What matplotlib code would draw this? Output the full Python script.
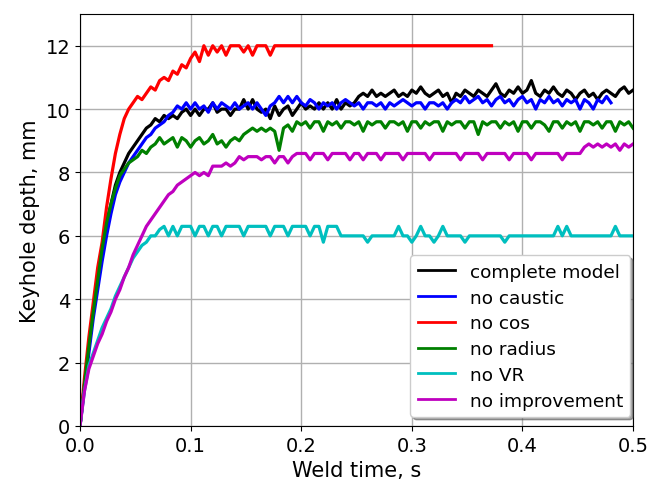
import numpy as np
import matplotlib
matplotlib.use("Agg")
import matplotlib.pyplot as plt

time_step = 0.004  # s between samples

labels = ["complete model", "no caustic", "no cos", "no radius", "no VR", "no improvement"]
colors = ["k", "b", "r", "g", "c", "m"]

complete_model = [
    0.0, 1.3, 2.5, 3.6, 4.6, 5.6, 6.4, 7.0, 7.6, 8.0, 8.3, 8.6, 8.8, 9.0, 9.2, 9.4, 9.5, 9.7, 9.6, 9.8,
    9.7, 9.8, 9.7, 9.9, 10.0, 9.8, 10.0, 9.8, 10.0, 10.0, 10.2, 9.9, 10.0, 10.0, 9.8, 10.0, 10.0, 10.3, 10.0, 10.3,
    10.0, 9.9, 10.0, 9.7, 10.1, 9.8, 10.0, 10.1, 9.8, 10.0, 10.2, 10.0, 10.1, 10.0, 10.2, 10.0, 10.2, 10.0, 10.3, 10.0,
    10.2, 10.1, 10.2, 10.4, 10.5, 10.4, 10.6, 10.4, 10.5, 10.4, 10.5, 10.6, 10.4, 10.5, 10.4, 10.6, 10.5, 10.7, 10.5, 10.4,
    10.5, 10.6, 10.4, 10.5, 10.2, 10.5, 10.4, 10.6, 10.5, 10.4, 10.6, 10.5, 10.4, 10.6, 10.8, 10.5, 10.4, 10.6, 10.5, 10.7,
    10.5, 10.6, 10.9, 10.5, 10.4, 10.6, 10.5, 10.7, 10.5, 10.4, 10.6, 10.5, 10.3, 10.5, 10.6, 10.4, 10.5, 10.3, 10.5, 10.6,
    10.5, 10.4, 10.6, 10.7, 10.5, 10.6,
]

no_caustic = [
    0.0, 1.2, 2.3, 3.4, 4.3, 5.2, 6.0, 6.7, 7.3, 7.7, 8.0, 8.3, 8.5, 8.7, 8.9, 9.1, 9.2, 9.4, 9.5, 9.6,
    9.8, 9.9, 10.1, 10.0, 10.2, 10.0, 10.2, 10.0, 10.1, 9.9, 10.2, 10.0, 10.2, 10.1, 10.0, 10.2, 10.0, 10.1, 10.2, 10.0,
    10.2, 10.0, 9.8, 10.1, 10.2, 10.4, 10.2, 10.4, 10.2, 10.4, 10.2, 10.1, 10.3, 10.2, 10.0, 10.2, 10.1, 10.2, 10.0, 10.2,
    10.3, 10.2, 10.1, 10.2, 10.0, 10.2, 10.2, 10.1, 10.2, 10.0, 10.2, 10.1, 10.2, 10.3, 10.2, 10.1, 10.2, 10.2, 10.0, 10.2,
    10.2, 10.1, 10.2, 10.0, 10.2, 10.3, 10.2, 10.4, 10.2, 10.3, 10.4, 10.2, 10.3, 10.1, 10.3, 10.4, 10.2, 10.3, 10.1, 10.3,
    10.4, 10.2, 10.3, 10.0, 10.3, 10.2, 10.4, 10.2, 10.3, 10.1, 10.3, 10.2, 10.3, 10.0, 10.3, 10.2, 10.0, 10.3, 10.2, 10.4,
    10.2,
]

no_cos = [
    0.0, 1.5, 2.8, 3.9, 5.0, 5.8, 6.9, 7.8, 8.6, 9.2, 9.7, 10.0, 10.2, 10.4, 10.3, 10.5, 10.7, 10.6, 10.9, 11.0,
    10.9, 11.2, 11.1, 11.4, 11.3, 11.6, 11.8, 11.5, 12.0, 11.7, 12.0, 11.8, 12.0, 11.7, 12.0, 12.0, 12.0, 11.8, 12.0, 11.7,
    12.0, 12.0, 12.0, 11.7, 12.0, 12.0, 12.0, 12.0, 12.0, 12.0, 12.0, 12.0, 12.0, 12.0, 12.0, 12.0, 12.0, 12.0, 12.0, 12.0,
    12.0, 12.0, 12.0, 12.0, 12.0, 12.0, 12.0, 12.0, 12.0, 12.0, 12.0, 12.0, 12.0, 12.0, 12.0, 12.0, 12.0, 12.0, 12.0, 12.0,
    12.0, 12.0, 12.0, 12.0, 12.0, 12.0, 12.0, 12.0, 12.0, 12.0, 12.0, 12.0, 12.0, 12.0,
]

no_radius = [
    0.0, 1.3, 2.5, 3.6, 4.6, 5.6, 6.4, 7.0, 7.5, 7.9, 8.1, 8.3, 8.4, 8.5, 8.7, 8.6, 8.8, 8.9, 9.1, 8.9,
    9.0, 9.1, 8.8, 9.1, 9.0, 8.8, 9.0, 9.1, 8.9, 9.0, 9.2, 8.9, 9.0, 8.8, 9.0, 9.1, 9.0, 9.2, 9.3, 9.4,
    9.3, 9.4, 9.3, 9.4, 9.3, 8.7, 9.4, 9.5, 9.3, 9.6, 9.5, 9.6, 9.4, 9.6, 9.6, 9.3, 9.6, 9.5, 9.6, 9.4,
    9.6, 9.6, 9.5, 9.6, 9.3, 9.6, 9.5, 9.6, 9.6, 9.4, 9.6, 9.6, 9.5, 9.6, 9.3, 9.6, 9.6, 9.4, 9.6, 9.5,
    9.6, 9.6, 9.3, 9.6, 9.5, 9.6, 9.6, 9.4, 9.6, 9.6, 9.2, 9.6, 9.5, 9.6, 9.6, 9.4, 9.6, 9.5, 9.6, 9.3,
    9.6, 9.6, 9.4, 9.6, 9.6, 9.5, 9.3, 9.6, 9.6, 9.4, 9.6, 9.5, 9.6, 9.3, 9.6, 9.6, 9.5, 9.6, 9.4, 9.6,
    9.6, 9.3, 9.6, 9.5, 9.6, 9.4,
]

no_vr = [
    0.0, 1.1, 1.9, 2.3, 2.7, 3.1, 3.4, 3.7, 4.1, 4.4, 4.7, 5.0, 5.3, 5.5, 5.7, 5.8, 6.0, 6.0, 6.2, 6.3,
    6.0, 6.3, 6.0, 6.3, 6.3, 6.3, 6.0, 6.3, 6.3, 6.0, 6.3, 6.3, 6.0, 6.3, 6.3, 6.3, 6.3, 6.0, 6.3, 6.3,
    6.3, 6.3, 6.3, 6.0, 6.3, 6.3, 6.3, 6.0, 6.3, 6.3, 6.3, 6.3, 6.0, 6.3, 6.3, 5.8, 6.3, 6.3, 6.3, 6.0,
    6.0, 6.0, 6.0, 6.0, 6.0, 5.8, 6.0, 6.0, 6.0, 6.0, 6.0, 6.0, 6.3, 6.0, 6.0, 5.8, 6.0, 6.3, 6.0, 6.0,
    5.8, 6.0, 6.3, 6.0, 6.0, 6.0, 6.0, 5.8, 6.0, 6.0, 6.0, 6.0, 6.0, 6.0, 6.0, 6.0, 5.8, 6.0, 6.0, 6.0,
    6.0, 6.0, 6.0, 6.0, 6.0, 6.0, 6.0, 6.0, 6.3, 6.0, 6.3, 6.0, 6.0, 6.0, 6.0, 6.0, 6.0, 6.0, 6.0, 6.0,
    6.0, 6.3, 6.0, 6.0, 6.0, 6.0,
]

no_improvement = [
    0.0, 1.1, 1.8, 2.2, 2.6, 2.9, 3.3, 3.6, 4.0, 4.3, 4.7, 5.0, 5.4, 5.7, 6.0, 6.3, 6.5, 6.7, 6.9, 7.1,
    7.3, 7.4, 7.6, 7.7, 7.8, 7.9, 8.0, 7.9, 8.0, 7.9, 8.2, 8.2, 8.2, 8.3, 8.2, 8.3, 8.5, 8.4, 8.5, 8.5,
    8.5, 8.4, 8.5, 8.5, 8.3, 8.5, 8.5, 8.3, 8.5, 8.6, 8.6, 8.6, 8.4, 8.6, 8.6, 8.6, 8.4, 8.6, 8.6, 8.6,
    8.6, 8.4, 8.6, 8.6, 8.4, 8.6, 8.6, 8.6, 8.4, 8.6, 8.6, 8.6, 8.6, 8.4, 8.6, 8.6, 8.6, 8.6, 8.6, 8.4,
    8.6, 8.6, 8.6, 8.6, 8.6, 8.6, 8.4, 8.6, 8.6, 8.6, 8.6, 8.4, 8.6, 8.6, 8.6, 8.6, 8.6, 8.4, 8.6, 8.6,
    8.6, 8.6, 8.4, 8.6, 8.6, 8.6, 8.6, 8.6, 8.6, 8.4, 8.6, 8.6, 8.6, 8.6, 8.8, 8.9, 8.8, 8.9, 8.8, 8.9,
    8.8, 8.9, 8.7, 8.9, 8.8, 8.9,
]

series = [complete_model, no_caustic, no_cos, no_radius, no_vr, no_improvement]

fig = plt.figure(figsize=(6.52, 4.85), dpi=100)
ax = fig.add_axes([0.1227, 0.1196, 0.8483, 0.8494])

for vals, lab, col in zip(series, labels, colors):
    t = np.arange(len(vals)) * time_step
    ax.plot(t, vals, color=col, lw=2.3, label=lab)

ax.set_xlim(0, 0.5)
ax.set_ylim(0, 13)
ax.set_xticks([0.0, 0.1, 0.2, 0.3, 0.4, 0.5])
ax.set_yticks([0, 2, 4, 6, 8, 10, 12])
ax.tick_params(labelsize=14)
ax.grid(True, color="#b0b0b0", lw=1)
ax.set_axisbelow(True)
ax.set_xlabel("Weld time, s", fontsize=15)
ax.set_ylabel("Keyhole depth, mm", fontsize=15)
leg = ax.legend(loc="lower right", bbox_to_anchor=(0.995, 0.022), borderaxespad=0,
                fontsize=13.3, labelspacing=0.42, shadow=True, framealpha=1, fancybox=True)
for line in leg.get_lines():
    line.set_linewidth(2)

fig.savefig("out.png", dpi=100)
